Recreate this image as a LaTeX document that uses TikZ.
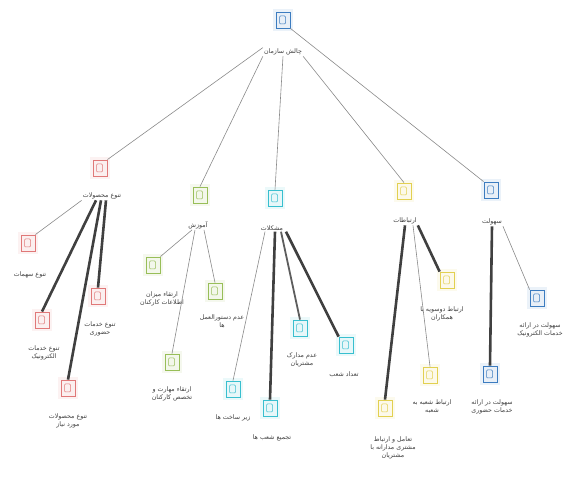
\documentclass[tikz,border=0pt]{standalone}
\usepackage{fontspec}
\newfontfamily\arabicfont[Script=Arabic]{DejaVu Sans}
\TeXXeTstate=1
\newcommand{\fa}[1]{{\arabicfont\beginR #1\endR}}
\definecolor{cred}{HTML}{E07878}
\definecolor{cgreen}{HTML}{98BE58}
\definecolor{ccyan}{HTML}{38BFCF}
\definecolor{cyel}{HTML}{E2D050}
\definecolor{cblue}{HTML}{3C7CC0}
\definecolor{txt}{HTML}{404040}
\definecolor{thin}{HTML}{8A8A8A}
\definecolor{thick}{HTML}{404040}
\tikzset{
  mbox/.style={draw=#1, fill=#1!12, line width=0.8pt, minimum width=14pt, minimum height=16pt, inner sep=0pt,
    preaction={draw=#1!10, line width=6pt},
    path picture={\draw[#1, line width=0.5pt, rounded corners=1pt] ([xshift=-3.5pt,yshift=-4pt]path picture bounding box.center) rectangle ([xshift=2.5pt,yshift=4pt]path picture bounding box.center);}},
  lbl/.style={font=\fontsize{6.3}{8}\selectfont, text=txt, align=center, inner sep=1pt},
  thinl/.style={draw=thin, line width=0.6pt},
  thickl/.style={draw=thick, line width=2.6pt},
  medl/.style={draw=thick!85, line width=1.8pt},
}
\begin{document}
\begin{tikzpicture}[x=1pt,y=-1pt]
\useasboundingbox (0,0) rectangle (563,478);
% root
\node[mbox=cblue] (root) at (283,20) {};
\node[lbl] (rootl) at (283,52) {\fa{چالش سازمان}};
% level 1
\node[mbox=cred] (red) at (100,168) {};
\node[lbl] (redl) at (102,196) {\fa{تنوع محصولات}};
\node[mbox=cgreen] (grn) at (200,195) {};
\node[lbl] (grnl) at (198,225) {\fa{آموزش}};
\node[mbox=ccyan] (cyn) at (275,198) {};
\node[lbl] (cynl) at (272,228) {\fa{مشکلات}};
\node[mbox=cyel] (yel) at (404,191) {};
\node[lbl] (yell) at (405,221) {\fa{ارتباطات}};
\node[mbox=cblue] (blu) at (491,190) {};
\node[lbl] (blul) at (492,222) {\fa{سهولت}};
% red children
\node[mbox=cred] (r1) at (28,243) {};
\node[lbl] (r1l) at (30,275) {\fa{تنوع سهمات}};
\node[mbox=cred] (r2) at (42,320) {};
\node[lbl] (r2l) at (44,353) {\fa{تنوع خدمات}\\\fa{الکترونیک}};
\node[mbox=cred] (r3) at (98,296) {};
\node[lbl] (r3l) at (100,329) {\fa{تنوع خدمات}\\\fa{حضوری}};
\node[mbox=cred] (r4) at (68,388) {};
\node[lbl] (r4l) at (68,421) {\fa{تنوع محصولات}\\\fa{مورد نیاز}};
% green children
\node[mbox=cgreen] (g1) at (153,265) {};
\node[lbl] (g1l) at (162,299) {\fa{ارتقاء میزان}\\\fa{اطلاعات کارکنان}};
\node[mbox=cgreen] (g2) at (215,291) {};
\node[lbl] (g2l) at (222,321) {\fa{عدم دستورالعمل}\\\fa{ها}};
\node[mbox=cgreen] (g3) at (172,362) {};
\node[lbl] (g3l) at (172,394) {\fa{ارتقاء مهارت و}\\\fa{تخصص کارکنان}};
% cyan children
\node[mbox=ccyan] (c1) at (233,389) {};
\node[lbl] (c1l) at (233,418) {\fa{زیر ساخت ها}};
\node[mbox=ccyan] (c2) at (270,408) {};
\node[lbl] (c2l) at (272,438) {\fa{تجمیع شعب ها}};
\node[mbox=ccyan] (c3) at (300,328) {};
\node[lbl] (c3l) at (302,360) {\fa{عدم مدارک}\\\fa{مشتریان}};
\node[mbox=ccyan] (c4) at (346,345) {};
\node[lbl] (c4l) at (344,375) {\fa{تعداد شعب}};
% yellow children
\node[mbox=cyel] (y1) at (385,408) {};
\node[lbl] (y1l) at (393,448) {\fa{تعامل و ارتباط}\\\fa{مشتری مدارانه با}\\\fa{مشتریان}};
\node[mbox=cyel] (y2) at (430,375) {};
\node[lbl] (y2l) at (432,407) {\fa{ارتباط شعبه به}\\\fa{شعبه}};
\node[mbox=cyel] (y3) at (447,280) {};
\node[lbl] (y3l) at (442,314) {\fa{ارتباط دوسویه با}\\\fa{همکاران}};
% blue children
\node[mbox=cblue] (b1) at (490,374) {};
\node[lbl] (b1l) at (492,407) {\fa{سهولت در ارائه}\\\fa{خدمات حضوری}};
\node[mbox=cblue] (b2) at (537,298) {};
\node[lbl] (b2l) at (540,330) {\fa{سهولت در ارائه}\\\fa{خدمات الکترونیک}};
% connectors
\draw[thinl] (rootl.north west) -- (red.north east);
\draw[thinl] (rootl.south west) -- (grn.north);
\draw[thinl] (rootl.south) -- (cyn.north);
\draw[thinl] (rootl.south east) -- (yel.north);
\draw[thinl] (root.south east) -- (blu.north west);
% red
\draw[thinl] (redl.south west) -- (r1.north east);
\draw[thickl] ([xshift=-6pt]redl.south) -- (r2.north);
\draw[thickl] ([xshift=4pt]redl.south) -- (r3.north);
\draw[thickl] ([xshift=-1pt]redl.south) -- (r4.north);
% green
\draw[thinl] ([xshift=-6pt]grnl.south) -- (g1.north east);
\draw[thinl] ([xshift=6pt]grnl.south) -- (g2.north);
\draw[thinl] ([xshift=-3pt]grnl.south) -- (g3.north);
% cyan
\draw[thinl] ([xshift=-7pt]cynl.south) -- (c1.north);
\draw[thickl] ([xshift=3pt]cynl.south) -- (c2.north);
\draw[medl] ([xshift=9pt]cynl.south) -- (c3.north);
\draw[thickl] ([xshift=14pt]cynl.south) -- (c4.north west);
% yellow
\draw[thickl] (yell.south) -- (y1.north);
\draw[thinl] ([xshift=8pt]yell.south) -- (y2.north);
\draw[thickl] (yell.south east) -- (y3.north west);
% blue
\draw[thickl] (blul.south) -- (b1.north);
\draw[thinl] (blul.south east) -- (b2.north west);
\end{tikzpicture}
\end{document}
